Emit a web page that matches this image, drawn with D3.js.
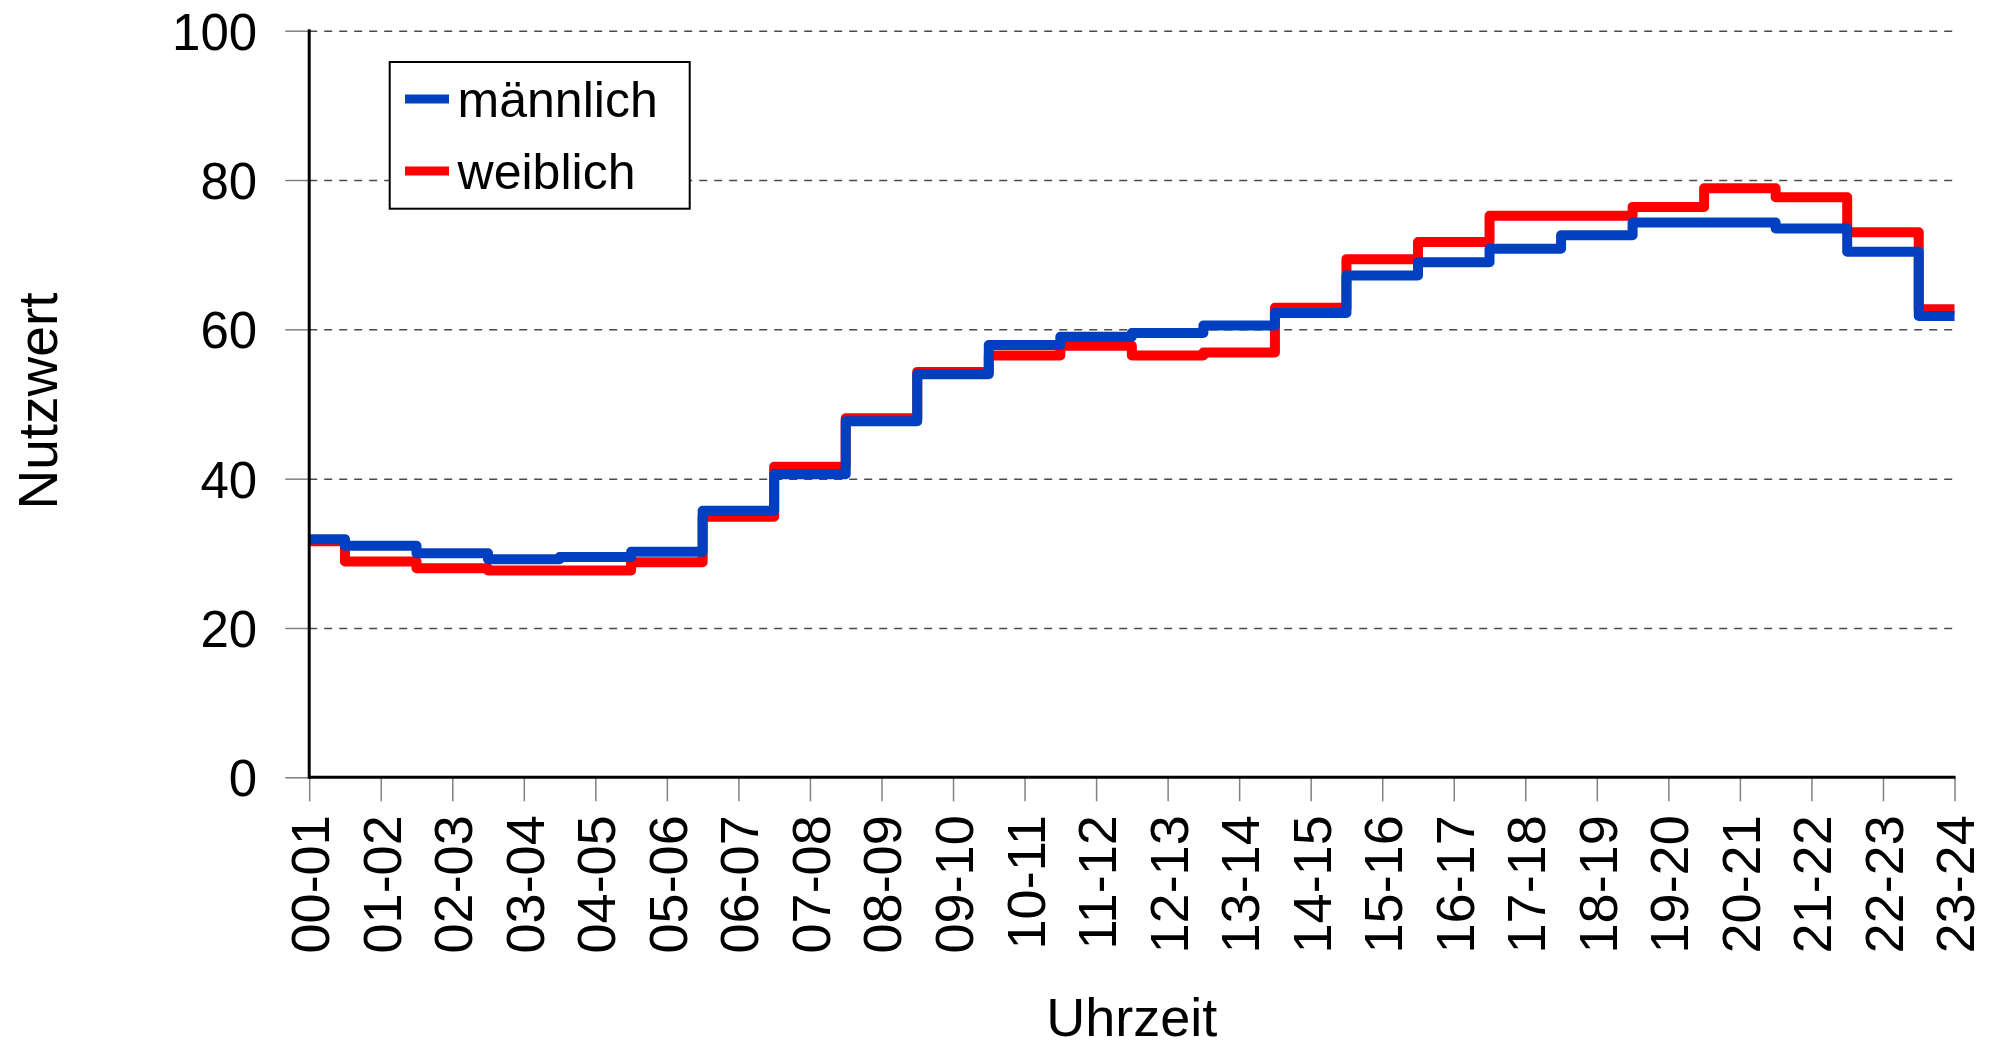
<!DOCTYPE html>
<html>
<head>
<meta charset="utf-8">
<script src="https://cdn.jsdelivr.net/npm/d3@7"></script>
<style>
    body { margin: 0; background: white; }
    svg text { font-family: "Liberation Sans", Arial, sans-serif; fill: black; }
</style>
</head>
<body>
<div id="chart"></div>
<script>
let hours = ["00-01", "01-02", "02-03", "03-04", "04-05", "05-06", "06-07", "07-08",
    "08-09", "09-10", "10-11", "11-12", "12-13", "13-14", "14-15", "15-16",
    "16-17", "17-18", "18-19", "19-20", "20-21", "21-22", "22-23", "23-24"];
let maennlich = [31.9, 31.0, 30.0, 29.2, 29.5, 30.2, 35.7, 40.6, 47.7, 54.0, 57.9, 59.0,
    59.5, 60.5, 62.2, 67.2, 69.0, 70.8, 72.6, 74.3, 74.3, 73.5, 70.4, 61.8];
let weiblich = [31.6, 28.9, 28.0, 27.7, 27.7, 28.8, 34.9, 41.6, 48.1, 54.3, 56.5, 57.8,
    56.5, 56.9, 62.9, 69.4, 71.7, 75.2, 75.2, 76.4, 78.9, 77.7, 73.0, 62.7];
let yTicks = [0, 20, 40, 60, 80, 100];
let seriesNames = ["männlich", "weiblich"];
let seriesColors = ["#0040c0", "#ff0000"];

function renderChart() {
    const wSvg = 1997;
    const hSvg = 1050;
    const left = 309.2;
    const right = 1954.5;
    const top = 30.7;
    const bottom = 777.3;

    let xScale = d3.scalePoint(hours, [left, right]);
    let yScale = d3.scaleLinear([0, 100], [bottom, top]);

    let svg = d3.select("#chart")
        .append("svg")
        .attr("width", wSvg)
        .attr("height", hSvg);

    // dashed grid
    svg.append("g")
        .attr("transform", `translate(${left}, 0)`)
        .call(d3.axisLeft(yScale).tickValues(yTicks.filter(t => t > 0)).tickSize(-(right - left)).tickFormat(""))
        .call(g => g.select(".domain").remove())
        .selectAll(".tick line")
        .attr("stroke", "#4a4a4a")
        .attr("stroke-width", 1.5)
        .attr("stroke-dasharray", "8,7");

    // y axis
    let yAxis = d3.axisLeft(yScale).tickValues(yTicks).tickSize(24).tickPadding(28);
    svg.append("g")
        .attr("transform", `translate(${left}, 0)`)
        .call(yAxis)
        .call(g => g.select(".domain").remove())
        .call(g => g.selectAll(".tick line").attr("stroke", "#808080").attr("stroke-width", 1.5))
        .selectAll("text")
        .attr("dy", "0.36em")
        .style("font-size", "51px");

    // x axis
    let xAxis = d3.axisBottom(xScale).tickSize(24);
    svg.append("g")
        .attr("transform", `translate(0, ${bottom})`)
        .call(xAxis)
        .call(g => g.select(".domain").remove())
        .call(g => g.selectAll(".tick line").attr("stroke", "#808080").attr("stroke-width", 1.5))
        .selectAll("text")
        .attr("x", 0)
        .attr("y", 0)
        .attr("dy", "0.36em")
        .attr("transform", "translate(0, 38) rotate(-90)")
        .style("text-anchor", "end")
        .style("font-size", "54px");

    // step lines
    let line = d3.line()
        .x((d, i) => xScale(hours[i]))
        .y(d => yScale(d))
        .curve(d3.curveStep);

    svg.append("path")
        .attr("d", line(weiblich))
        .attr("fill", "none")
        .attr("stroke", seriesColors[1])
        .attr("stroke-width", 10)
        .attr("stroke-linejoin", "round");

    svg.append("path")
        .attr("d", line(maennlich))
        .attr("fill", "none")
        .attr("stroke", seriesColors[0])
        .attr("stroke-width", 10)
        .attr("stroke-linejoin", "round");

    // axis lines
    svg.append("line")
        .attr("x1", left).attr("x2", left)
        .attr("y1", top - 1.5).attr("y2", bottom + 1.5)
        .attr("stroke", "black").attr("stroke-width", 3);
    svg.append("line")
        .attr("x1", left).attr("x2", right + 1)
        .attr("y1", bottom).attr("y2", bottom)
        .attr("stroke", "black").attr("stroke-width", 3);

    // axis titles
    svg.append("text")
        .attr("transform", "translate(57, 401) rotate(-90)")
        .attr("text-anchor", "middle")
        .style("font-size", "55px")
        .text("Nutzwert");

    svg.append("text")
        .attr("x", (left + right) / 2)
        .attr("y", 1036)
        .attr("text-anchor", "middle")
        .style("font-size", "54px")
        .text("Uhrzeit");

    // legend
    let legend = svg.append("g");
    legend.append("rect")
        .attr("x", 389.7)
        .attr("y", 62)
        .attr("width", 300)
        .attr("height", 146.7)
        .attr("fill", "white")
        .attr("stroke", "black")
        .attr("stroke-width", 2);

    seriesNames.forEach((name, i) => {
        let yMid = 99 + i * 72;
        legend.append("line")
            .attr("x1", 405).attr("x2", 449)
            .attr("y1", yMid).attr("y2", yMid)
            .attr("stroke", seriesColors[i])
            .attr("stroke-width", 9);
        legend.append("text")
            .attr("x", 457.6)
            .attr("y", yMid + 17.8)
            .style("font-size", "50px")
            .text(name);
    });
}

renderChart();
</script>
</body>
</html>
